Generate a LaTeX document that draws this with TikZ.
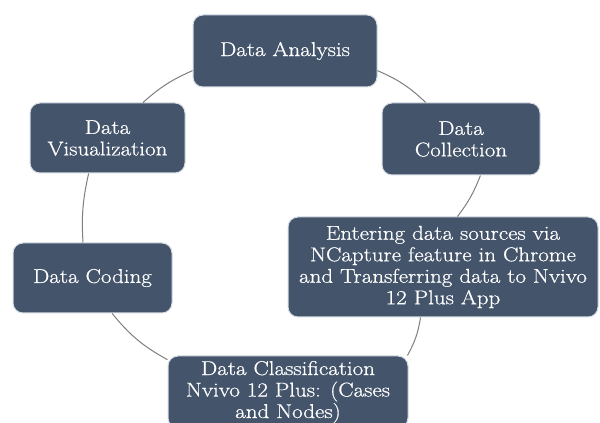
\documentclass[tikz,border=0pt]{standalone}
\usepackage{fontspec}
\setmainfont{Latin Modern Roman}[FakeStretch=1.15,FakeBold=0.6]
\usetikzlibrary{positioning}
\definecolor{slate}{HTML}{44546A}
\definecolor{rim}{HTML}{D6DCE4}
\definecolor{linkgray}{HTML}{7F7F7F}

\begin{document}
\begin{tikzpicture}[x=1pt,y=1pt,
        stage/.style={rectangle,rounded corners=10pt,fill=slate,draw=rim,
            line width=1pt,text=white,align=center,inner sep=4pt,
            font=\fontsize{20}{21.5}\selectfont},
        link/.style={draw=linkgray,line width=1pt}]
        \clip (0,0) rectangle (600,423);
        \fill[white] (0,0) rectangle (600,423);
        \node[stage,minimum width=184,minimum height=72] at (285,372)   (ana) {Data Analysis};
        \node[stage,minimum width=158,minimum height=72] at (461,284)   (col) {Data\\Collection};
        \node[stage,minimum width=310,minimum height=100] at (443,156)  (ent) {Entering data sources via\\NCapture feature in Chrome\\and Transferring data to Nvivo\\12 Plus App};
        \node[stage,minimum width=240,minimum height=72] at (288,31)    (cls) {Data Classification\\Nvivo 12 Plus: (Cases\\and Nodes)};
        \node[stage,minimum width=159,minimum height=70] at (92.5,145)  (cod) {Data Coding};
        \node[stage,minimum width=155,minimum height=70] at (107.5,285) (vis) {Data\\Visualization};

        \path [every edge/.style={link}]
        (ana.-12)   edge [bend left=10] (col.134)
        (col.-62)   edge [bend left=8]  (ent.74)
        (ent.-114)  edge [bend left=10] (cls.17)
        (cls.165)   edge [bend left=11] (cod.-61)
        (cod.105)   edge [bend left=8]  (vis.-118)
        (vis.45)    edge [bend left=9]  (ana.-168);
\end{tikzpicture}
\end{document}
